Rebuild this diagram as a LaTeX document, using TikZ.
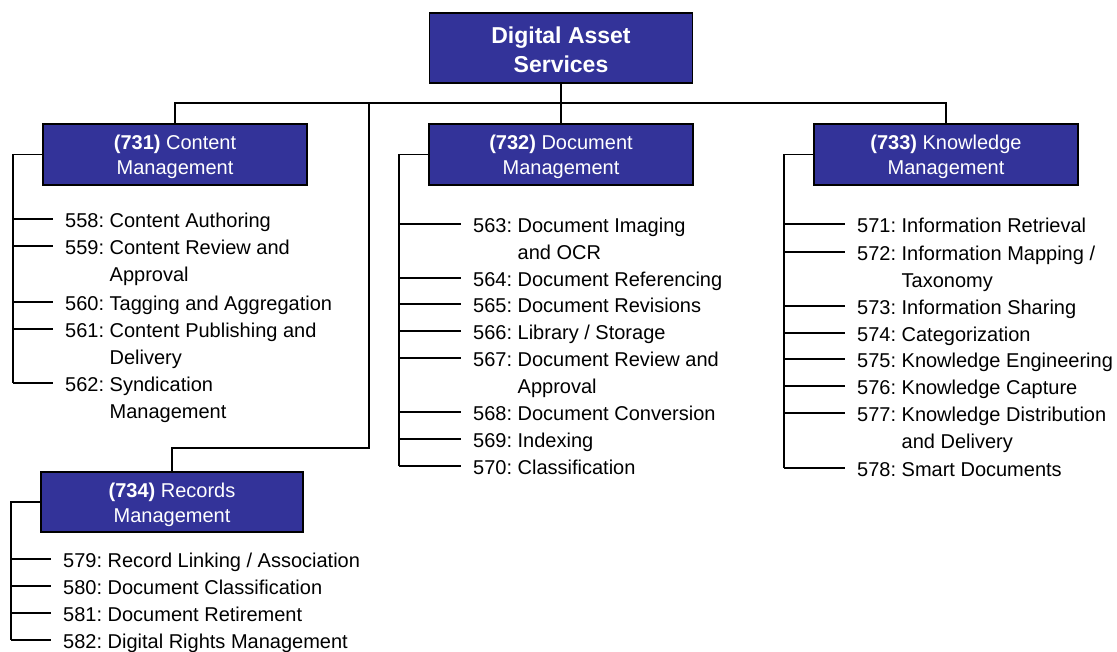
\documentclass[tikz,border=0pt]{standalone}
\usepackage{fontspec}
\setmainfont{Liberation Sans}
\definecolor{dablue}{RGB}{51,51,153}
\newcommand\mkitem[6]{%
  \coordinate (t#1) at (#2,#3);
  \node[itemtxt] (n#1) at (#4,#3+8.5) {#5:~\begin{tabular}[t]{@{}l@{}}#6\end{tabular}};
  \draw[tick] (t#1) -- ([xshift=-12pt]t#1 -| n#1.west);
}
\newcommand\upstrut{\rule{0pt}{20pt}}
\begin{document}
\begin{tikzpicture}[x=1pt,y=-1pt,
  box/.style={draw=black, line width=1.5pt, fill=dablue, text=white, align=center,
    minimum width=264pt, minimum height=61pt, inner sep=0pt,
    font=\fontsize{20}{25}\selectfont},
  itemtxt/.style={anchor=base west, inner sep=0pt, font=\fontsize{20}{27}\selectfont},
  tick/.style={line width=1.5pt},
  conn/.style={line width=1.8pt}]
\useasboundingbox (0,0) rectangle (1117,652);

\node[box, minimum width=263pt, minimum height=70pt, font=\fontsize{23}{29}\selectfont\bfseries]
  (top) at (561,48) {\rule{0pt}{21pt}Digital Asset\\Services};
\node[box] (c731) at (175,154.5) {\upstrut\textbf{(731)} Content\\Management};
\node[box] (c732) at (561,154.5) {\upstrut\textbf{(732)} Document\\Management};
\node[box] (c733) at (946,154.5) {\upstrut\textbf{(733)} Knowledge\\Management};
\node[box, minimum width=262pt, minimum height=60pt] (c734) at (172,502) {\upstrut\textbf{(734)} Records\\Management};

\coordinate (bus) at (561,103);
\coordinate (k1) at (369,103);
\coordinate (k2) at (369,448);
\draw[conn] (top.south) -- (c732.north);
\draw[conn] (c731.north) |- (bus) -| (c733.north);
\draw[conn] (k1) -- (k2) -| (c734.north);

% 731
\mkitem{558}{13}{219}{65}{558}{Content Authoring}
\mkitem{559}{13}{246}{65}{559}{Content Review and\\Approval}
\mkitem{560}{13}{302}{65}{560}{Tagging and Aggregation}
\mkitem{561}{13}{329}{65}{561}{Content Publishing and\\Delivery}
\mkitem{562}{13}{383}{65}{562}{Syndication\\Management}
\draw[conn] (c731.west) -| (t562);

% 732
\mkitem{563}{399}{224}{473}{563}{Document Imaging\\and OCR}
\mkitem{564}{399}{278}{473}{564}{Document Referencing}
\mkitem{565}{399}{304}{473}{565}{Document Revisions}
\mkitem{566}{399}{331}{473}{566}{Library / Storage}
\mkitem{567}{399}{358}{473}{567}{Document Review and\\Approval}
\mkitem{568}{399}{412}{473}{568}{Document Conversion}
\mkitem{569}{399}{439}{473}{569}{Indexing}
\mkitem{570}{399}{466}{473}{570}{Classification}
\draw[conn] (c732.west) -| (t570);

% 733
\mkitem{571}{784}{224}{857}{571}{Information Retrieval}
\mkitem{572}{784}{252}{857}{572}{Information Mapping /\\Taxonomy}
\mkitem{573}{784}{306}{857}{573}{Information Sharing}
\mkitem{574}{784}{333}{857}{574}{Categorization}
\mkitem{575}{784}{359}{857}{575}{Knowledge Engineering}
\mkitem{576}{784}{386}{857}{576}{Knowledge Capture}
\mkitem{577}{784}{413}{857}{577}{Knowledge Distribution\\and Delivery}
\mkitem{578}{784}{468}{857}{578}{Smart Documents}
\draw[conn] (c733.west) -| (t578);

% 734
\mkitem{579}{11}{559}{63}{579}{Record Linking / Association}
\mkitem{580}{11}{586}{63}{580}{Document Classification}
\mkitem{581}{11}{613}{63}{581}{Document Retirement}
\mkitem{582}{11}{640}{63}{582}{Digital Rights Management}
\draw[conn] (c734.west) -| (t582);
\end{tikzpicture}
\end{document}
